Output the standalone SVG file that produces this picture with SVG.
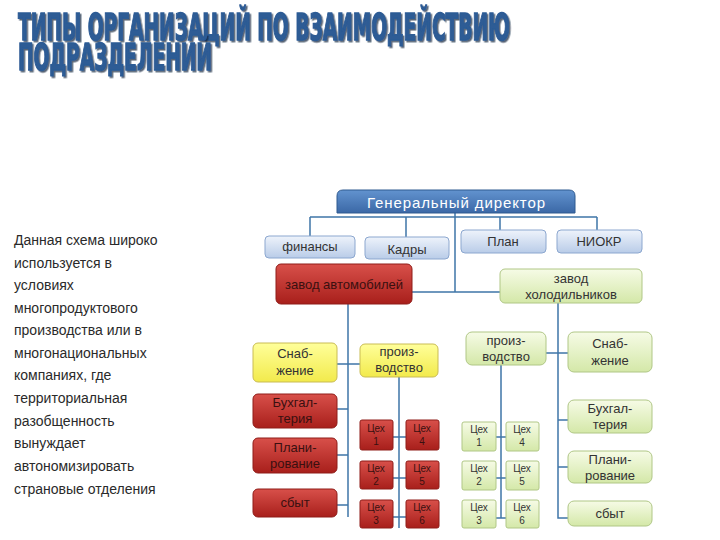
<svg xmlns="http://www.w3.org/2000/svg" width="720" height="540" viewBox="0 0 720 540">
<defs>
<linearGradient id="gBlue" x1="0" y1="0" x2="0" y2="1"><stop offset="0" stop-color="#eef3fb"/><stop offset="1" stop-color="#b9cce8"/></linearGradient>
<linearGradient id="gDir" x1="0" y1="0" x2="0" y2="1"><stop offset="0" stop-color="#6293cf"/><stop offset="1" stop-color="#3b68a6"/></linearGradient>
<linearGradient id="gRed" x1="0" y1="0" x2="0" y2="1"><stop offset="0" stop-color="#d8504a"/><stop offset="1" stop-color="#a81f1b"/></linearGradient>
<linearGradient id="gYel" x1="0" y1="0" x2="0" y2="1"><stop offset="0" stop-color="#ffff9a"/><stop offset="1" stop-color="#f2ea4c"/></linearGradient>
<linearGradient id="gGrn" x1="0" y1="0" x2="0" y2="1"><stop offset="0" stop-color="#f6fbe6"/><stop offset="1" stop-color="#d4e8a8"/></linearGradient>
<filter id="shadow" x="-5%" y="-20%" width="110%" height="150%"><feDropShadow dx="1.5" dy="1.2" stdDeviation="0.6" flood-color="#14243c" flood-opacity="0.7"/></filter>
</defs>
<style>
.title{font-family:"DejaVu Sans",sans-serif;font-weight:bold;font-stretch:condensed;font-size:28px;fill:#2d5b95;stroke:#2d5b95;stroke-width:1;filter:url(#shadow)}
.side{font-family:"Liberation Sans",sans-serif;font-size:14px;fill:#2a2a2a}
.t{font-family:"Liberation Sans",sans-serif;font-size:13px;fill:#333;text-anchor:middle}
.ts{font-family:"Liberation Sans",sans-serif;font-size:10px;fill:#333;text-anchor:middle}
.tr{font-family:"Liberation Sans",sans-serif;font-size:13px;fill:#3a1010;text-anchor:middle}
.trs{font-family:"Liberation Sans",sans-serif;font-size:10px;fill:#3a1010;text-anchor:middle}
.blue{fill:url(#gBlue);stroke:#8ca7cf;stroke-width:1}
.red{fill:url(#gRed);stroke:#8f1c18;stroke-width:1}
.yel{fill:url(#gYel);stroke:#c9bc55;stroke-width:1}
.grn{fill:url(#gGrn);stroke:#b0c786;stroke-width:1}
.ln{fill:none;stroke:#3f76a8;stroke-width:1.5}
</style>
<rect width="720" height="540" fill="#ffffff"/>

<g id="title">
<text class="title" transform="translate(18,40) scale(1,1.3)" x="0" y="0" textLength="492" lengthAdjust="spacingAndGlyphs">ТИПЫ ОРГАНИЗАЦИЙ ПО ВЗАИМОДЕЙСТВИЮ</text>
<text class="title" transform="translate(18,70) scale(1,1.3)" x="0" y="0" textLength="194" lengthAdjust="spacingAndGlyphs">ПОДРАЗДЕЛЕНИЙ</text>
</g>

<g id="side-text" class="side">
<text x="14" y="245">Данная схема широко</text>
<text x="14" y="268">используется в</text>
<text x="14" y="290">условиях</text>
<text x="14" y="313">многопродуктового</text>
<text x="14" y="335">производства  или в</text>
<text x="14" y="358">многонациональных</text>
<text x="14" y="380">компаниях, где</text>
<text x="14" y="403">территориальная</text>
<text x="14" y="426">разобщенность</text>
<text x="14" y="448">вынуждает</text>
<text x="14" y="471">автономизировать</text>
<text x="14" y="494">страновые отделения</text>
</g>

<g id="connectors">
<path class="ln" d="M310 217 H597 M310 217 V236 M406 217 V237 M500 217 V230 M597 217 V230"/>
<path class="ln" d="M455 213 V292 M412 292 H500"/>
<path class="ln" d="M348 304 V517 M337 364 H360 M348 409 H337 M348 455 H337 M348 505 H337"/>
<path class="ln" d="M399 377 V528 M393 437 H406 M393 478 H406 M393 517 H406"/>
<path class="ln" d="M558 303 V518 H568 M546 353 H568 M558 420 H568 M558 467 H568"/>
<path class="ln" d="M501 365 V518 M496 437 H506 M496 478 H506 M496 518 H506"/>
</g>

<g id="director">
<path d="M337 213 V196 Q337 190 343 190 H569 Q575 190 575 196 V213 Z" fill="url(#gDir)" stroke="#2e5a90" stroke-width="1"/>
<text x="456" y="208" font-family="Liberation Sans, sans-serif" font-size="15" fill="#ffffff" text-anchor="middle" textLength="178" lengthAdjust="spacing">Генеральный директор</text>
</g>

<g id="finansy"><rect class="blue" x="265" y="236" width="90" height="22" rx="4"/><text class="t" x="310" y="251">финансы</text></g>
<g id="kadry"><rect class="blue" x="365" y="237" width="84" height="22" rx="4"/><text class="t" x="407" y="254">Кадры</text></g>
<g id="plan"><rect class="blue" x="461" y="230" width="85" height="23" rx="4"/><text class="t" x="503" y="246">План</text></g>
<g id="niokr"><rect class="blue" x="557" y="230" width="85" height="23" rx="4"/><text class="t" x="599" y="246">НИОКР</text></g>

<g id="zavod-avto"><rect class="red" x="276" y="264" width="136" height="40" rx="5"/><text class="tr" x="344" y="289">завод автомобилей</text></g>
<g id="zavod-hol"><rect class="grn" x="500" y="269" width="142" height="34" rx="5"/><text class="t" x="571" y="283">завод</text><text class="t" x="571" y="299">холодильников</text></g>

<g id="l-snab"><rect class="yel" x="253" y="343" width="84" height="39" rx="5"/><text class="t" x="295" y="358">Снаб-</text><text class="t" x="295" y="375">жение</text></g>
<g id="l-proizv"><rect class="yel" x="360" y="344" width="78" height="33" rx="5"/><text class="t" x="399" y="356">произ-</text><text class="t" x="399" y="372">водство</text></g>
<g id="l-buh"><rect class="red" x="253" y="394" width="84" height="34" rx="5"/><text class="tr" x="295" y="407">Бухгал-</text><text class="tr" x="295" y="423">терия</text></g>
<g id="l-plan"><rect class="red" x="253" y="438" width="84" height="35" rx="5"/><text class="tr" x="295" y="452">Плани-</text><text class="tr" x="295" y="468">рование</text></g>
<g id="l-sbyt"><rect class="red" x="253" y="489" width="84" height="28" rx="5"/><text class="tr" x="295" y="507">сбыт</text></g>

<g id="l-ceh1"><rect class="red" x="360" y="420" width="33" height="30" rx="2"/><text class="trs" x="376" y="432">Цех</text><text class="trs" x="376" y="445">1</text></g>
<g id="l-ceh2"><rect class="red" x="360" y="461" width="33" height="28" rx="2"/><text class="trs" x="376" y="472">Цех</text><text class="trs" x="376" y="485">2</text></g>
<g id="l-ceh3"><rect class="red" x="360" y="500" width="33" height="28" rx="2"/><text class="trs" x="376" y="511">Цех</text><text class="trs" x="376" y="524">3</text></g>
<g id="l-ceh4"><rect class="red" x="406" y="420" width="33" height="30" rx="2"/><text class="trs" x="422" y="432">Цех</text><text class="trs" x="422" y="445">4</text></g>
<g id="l-ceh5"><rect class="red" x="406" y="461" width="33" height="28" rx="2"/><text class="trs" x="422" y="472">Цех</text><text class="trs" x="422" y="485">5</text></g>
<g id="l-ceh6"><rect class="red" x="406" y="500" width="33" height="28" rx="2"/><text class="trs" x="422" y="511">Цех</text><text class="trs" x="422" y="524">6</text></g>

<g id="r-proizv"><rect class="grn" x="466" y="332" width="80" height="33" rx="6"/><text class="t" x="506" y="345">произ-</text><text class="t" x="506" y="361">водство</text></g>
<g id="r-snab"><rect class="grn" x="568" y="332" width="84" height="40" rx="6"/><text class="t" x="610" y="348">Снаб-</text><text class="t" x="610" y="365">жение</text></g>
<g id="r-buh"><rect class="grn" x="568" y="400" width="84" height="33" rx="6"/><text class="t" x="610" y="413">Бухгал-</text><text class="t" x="610" y="429">терия</text></g>
<g id="r-plan"><rect class="grn" x="568" y="451" width="84" height="32" rx="6"/><text class="t" x="610" y="464">Плани-</text><text class="t" x="610" y="480">рование</text></g>
<g id="r-sbyt"><rect class="grn" x="568" y="501" width="84" height="25" rx="6"/><text class="t" x="610" y="518">сбыт</text></g>

<g id="r-ceh1"><rect class="grn" x="462" y="422" width="34" height="29" rx="2"/><text class="ts" x="479" y="433">Цех</text><text class="ts" x="479" y="446">1</text></g>
<g id="r-ceh2"><rect class="grn" x="462" y="461" width="34" height="29" rx="2"/><text class="ts" x="479" y="472">Цех</text><text class="ts" x="479" y="485">2</text></g>
<g id="r-ceh3"><rect class="grn" x="462" y="500" width="34" height="28" rx="2"/><text class="ts" x="479" y="511">Цех</text><text class="ts" x="479" y="524">3</text></g>
<g id="r-ceh4"><rect class="grn" x="506" y="422" width="33" height="29" rx="2"/><text class="ts" x="522" y="433">Цех</text><text class="ts" x="522" y="446">4</text></g>
<g id="r-ceh5"><rect class="grn" x="506" y="461" width="33" height="29" rx="2"/><text class="ts" x="522" y="472">Цех</text><text class="ts" x="522" y="485">5</text></g>
<g id="r-ceh6"><rect class="grn" x="506" y="500" width="33" height="28" rx="2"/><text class="ts" x="522" y="511">Цех</text><text class="ts" x="522" y="524">6</text></g>
</svg>
